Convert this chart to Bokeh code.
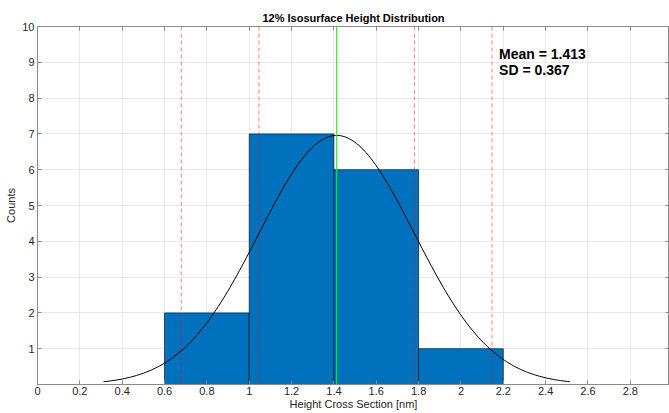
import numpy as np
from bokeh.plotting import figure
from bokeh.models import Range1d, FixedTicker, LinearAxis, Span, ColumnDataSource, CustomJSTickFormatter
from bokeh.core.properties import value
from bokeh.embed import file_html
from bokeh.resources import INLINE

# ---- data ----
bin_edges = [0.6, 1.0, 1.4, 1.8, 2.2]
counts = [2, 7, 6, 1]
mean_val = 1.413
sd_val = 0.367
x_ticks = [0, 0.2, 0.4, 0.6, 0.8, 1.0, 1.2, 1.4, 1.6, 1.8, 2.0, 2.2, 2.4, 2.6, 2.8]
x_tick_labels = ["0", "0.2", "0.4", "0.6", "0.8", "1", "1.2", "1.4", "1.6", "1.8", "2", "2.2", "2.4", "2.6", "2.8"]
y_ticks = [1, 2, 3, 4, 5, 6, 7, 8, 9, 10]

FONT = "Liberation Sans"
TXT = "#262626"
AX = "#8a8a8a"

p = figure(width=669, height=413, output_backend="svg", toolbar_location=None,
           x_range=Range1d(0, 2.985), y_range=Range1d(0, 10),
           min_border_left=37, min_border_right=0, min_border_top=26, min_border_bottom=29,
           background_fill_color="white", border_fill_color="white")

p.title.text = "12% Isosurface Height Distribution"
p.title.align = "center"
p.title.text_font = FONT
p.title.text_font_size = "11px"
p.title.text_font_style = "bold"
p.title.text_color = "black"
p.title.standoff = 5
p.title.offset = 0

p.outline_line_color = AX

# histogram bars
src = ColumnDataSource(dict(left=bin_edges[:-1], right=bin_edges[1:], top=counts,
                            bottom=[0] * len(counts)))
p.quad(left="left", right="right", top="top", bottom="bottom", source=src,
       fill_color="#0072BD", line_color="black", line_width=0.6)

# reference lines: mean ± 1 and 2 SD
for k in (-2, -1, 1, 2):
    p.add_layout(Span(location=mean_val + k * sd_val, dimension="height",
                      line_color="red", line_alpha=0.5, line_dash="4 3", line_width=1))
p.add_layout(Span(location=mean_val, dimension="height", line_color="#00ff00", line_width=1))

# fitted normal curve, scaled to counts
n_total = sum(counts)
bw = bin_edges[1] - bin_edges[0]
xc = np.linspace(mean_val - 3 * sd_val, mean_val + 3 * sd_val, 200)
yc = n_total * bw / (sd_val * np.sqrt(2 * np.pi)) * np.exp(-0.5 * ((xc - mean_val) / sd_val) ** 2)
p.line(xc, yc, line_color="black", line_width=1)

# annotation text
p.text(x=[2.18, 2.18], y=[9.22, 8.78],
       text=[f"Mean = {mean_val:.3f}", f"SD = {sd_val:.3f}"],
       text_font=value(FONT), text_font_style="bold", text_font_size="14px",
       text_color="black", text_baseline="middle", text_align="left")

# axes styling
xa = p.xaxis[0]
xa.ticker = FixedTicker(ticks=x_ticks)
xa.major_label_overrides = {t: l for t, l in zip(x_ticks, x_tick_labels)}
xa.axis_label = "Height Cross Section [nm]"
ya = p.yaxis[0]
ya.ticker = FixedTicker(ticks=y_ticks)
ya.axis_label = "Counts"

for ax in (xa, ya):
    ax.major_tick_in = 4
    ax.major_tick_out = 0
    ax.minor_tick_in = 0
    ax.minor_tick_out = 0
    ax.axis_line_color = AX
    ax.major_tick_line_color = AX
    ax.major_label_text_font = FONT
    ax.major_label_text_font_size = "11px"
    ax.major_label_text_color = TXT
    ax.axis_label_text_font = FONT
    ax.axis_label_text_font_size = "11px"
    ax.axis_label_text_font_style = "normal"
    ax.axis_label_text_color = TXT
    ax.major_label_standoff = 3
    ax.axis_label_standoff = 2
xa.major_label_standoff = 2
xa.axis_label_standoff = 0

# box ticks on top and right
top_ax = LinearAxis(ticker=FixedTicker(ticks=x_ticks))
right_ax = LinearAxis(ticker=FixedTicker(ticks=y_ticks))
for ax in (top_ax, right_ax):
    ax.major_tick_in = 4
    ax.major_tick_out = 0
    ax.minor_tick_in = 0
    ax.minor_tick_out = 0
    ax.axis_line_color = AX
    ax.major_tick_line_color = AX
    ax.formatter = CustomJSTickFormatter(code="return ''")
    ax.major_label_standoff = 0
p.add_layout(top_ax, "above")
p.add_layout(right_ax, "right")

p.xgrid.ticker = FixedTicker(ticks=x_ticks)
p.ygrid.ticker = FixedTicker(ticks=y_ticks)
p.grid.grid_line_color = "#e8e8e8"
p.grid.grid_line_width = 1

open("out.html", "w").write(file_html(p, INLINE))
